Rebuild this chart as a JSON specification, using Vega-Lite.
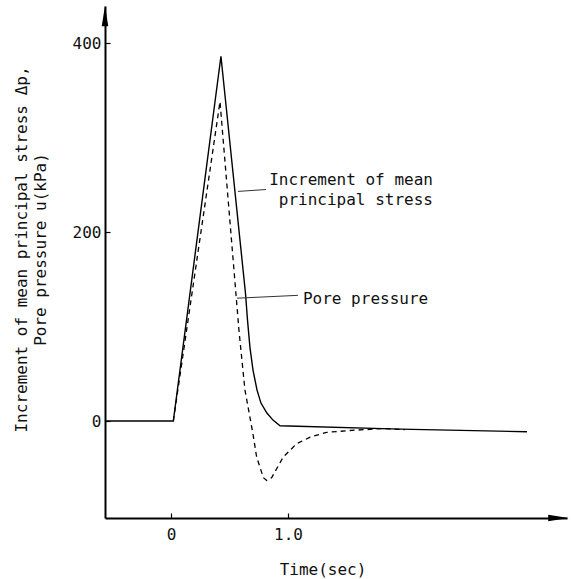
{
  "$schema": "https://vega.github.io/schema/vega-lite/v6.json",
  "width": 462,
  "height": 512,
  "autosize": {"type": "none"},
  "padding": {"left": 105, "top": 6, "right": 4, "bottom": 61},
  "background": "white",
  "config": {"view": {"stroke": null}, "font": "DejaVu Sans Mono"},
  "datasets": {
    "stress": [
      {"t": -0.564, "v": 0},
      {"t": 0.02, "v": 0},
      {"t": 0.427, "v": 386},
      {"t": 0.637, "v": 135},
      {"t": 0.654, "v": 107},
      {"t": 0.675, "v": 78},
      {"t": 0.701, "v": 54},
      {"t": 0.735, "v": 33},
      {"t": 0.769, "v": 19},
      {"t": 0.82, "v": 8.5},
      {"t": 0.872, "v": 1},
      {"t": 0.932, "v": -5},
      {"t": 1.957, "v": -8.5},
      {"t": 3.043, "v": -11.3}
    ],
    "pore": [
      {"t": 0.02, "v": 0},
      {"t": 0.419, "v": 338},
      {"t": 0.547, "v": 147},
      {"t": 0.581, "v": 96},
      {"t": 0.632, "v": 33},
      {"t": 0.7, "v": -13},
      {"t": 0.732, "v": -38},
      {"t": 0.79, "v": -60},
      {"t": 0.818, "v": -63},
      {"t": 0.86, "v": -60},
      {"t": 0.96, "v": -38},
      {"t": 1.074, "v": -24},
      {"t": 1.19, "v": -17},
      {"t": 1.33, "v": -12},
      {"t": 1.53, "v": -10},
      {"t": 1.81, "v": -8},
      {"t": 2.0, "v": -9}
    ],
    "leaders": [
      {"t": 0.573, "v": 243, "g": "stress"},
      {"t": 0.812, "v": 245, "g": "stress"},
      {"t": 0.564, "v": 130, "g": "pore"},
      {"t": 1.085, "v": 133, "g": "pore"}
    ],
    "notesRight": [
      {"t": 2.239, "v": 249.7, "label": "Increment of mean"},
      {"t": 2.239, "v": 228.6, "label": "principal stress"}
    ],
    "notesLeft": [
      {"t": 1.128, "v": 123.8, "label": "Pore pressure"}
    ],
    "arrows": [
      {"t": -0.564, "v": 428.6, "dir": "up"},
      {"t": 3.312, "v": -102.6, "dir": "right"}
    ]
  },
  "encoding": {
    "x": {
      "field": "t",
      "type": "quantitative",
      "scale": {"domain": [-0.564, 3.385], "nice": false, "zero": false},
      "axis": {
        "values": [0, 1],
        "labelExpr": "datum.value === 0 ? '0' : format(datum.value, '.1f')",
        "grid": false,
        "domainWidth": 2,
        "domainColor": "#000",
        "tickSize": -5,
        "tickWidth": 1.2,
        "tickColor": "#000",
        "labelFont": "DejaVu Sans Mono",
        "labelFontSize": 16,
        "labelColor": "#111",
        "labelBaseline": "alphabetic",
        "labelPadding": 26,
        "labelFlush": false,
        "title": "Time(sec)",
        "titleFont": "DejaVu Sans Mono",
        "titleFontSize": 16,
        "titleFontWeight": "normal",
        "titleColor": "#111",
        "titleX": 217.5,
        "titleY": 56,
        "titleAlign": "center",
        "titleBaseline": "alphabetic"
      }
    },
    "y": {
      "field": "v",
      "type": "quantitative",
      "scale": {"domain": [-102.6, 439.2], "nice": false, "zero": false},
      "axis": {
        "values": [0, 200, 400],
        "grid": false,
        "domainWidth": 2,
        "domainColor": "#000",
        "tickSize": -5,
        "tickWidth": 1.2,
        "tickColor": "#000",
        "labelFont": "DejaVu Sans Mono",
        "labelFontSize": 16,
        "labelColor": "#111",
        "labelPadding": 9,
        "title": ["Increment of mean principal stress Δp,", "Pore pressure u(kPa)"],
        "titleFont": "DejaVu Sans Mono",
        "titleFontSize": 16,
        "titleFontWeight": "normal",
        "titleColor": "#111",
        "titleAngle": -90,
        "titleX": -79,
        "titleY": 243,
        "titleAlign": "center",
        "titleBaseline": "alphabetic",
        "titleLineHeight": 19
      }
    }
  },
  "layer": [
    {
      "data": {"name": "stress"},
      "mark": {"type": "line", "color": "#000", "strokeWidth": 1.4}
    },
    {
      "data": {"name": "pore"},
      "mark": {"type": "line", "color": "#000", "strokeWidth": 1.3, "strokeDash": [5, 4]}
    },
    {
      "data": {"name": "leaders"},
      "mark": {"type": "line", "color": "#333", "strokeWidth": 1},
      "encoding": {"detail": {"field": "g"}}
    },
    {
      "data": {"name": "notesRight"},
      "mark": {"type": "text", "align": "right", "baseline": "alphabetic", "font": "DejaVu Sans Mono", "fontSize": 16, "color": "#111"},
      "encoding": {"text": {"field": "label"}}
    },
    {
      "data": {"name": "notesLeft"},
      "mark": {"type": "text", "align": "left", "baseline": "alphabetic", "font": "DejaVu Sans Mono", "fontSize": 16, "color": "#111"},
      "encoding": {"text": {"field": "label"}}
    },
    {
      "data": {"name": "arrows"},
      "mark": {"type": "point", "filled": true, "color": "#000", "opacity": 1, "size": 420, "strokeWidth": 0},
      "encoding": {
        "shape": {
          "field": "dir",
          "type": "nominal",
          "scale": {"domain": ["up", "right"], "range": ["M0,-1L0.32,1L-0.32,1Z", "M1,0L-1,0.32L-1,-0.32Z"]},
          "legend": null
        }
      }
    }
  ]
}
